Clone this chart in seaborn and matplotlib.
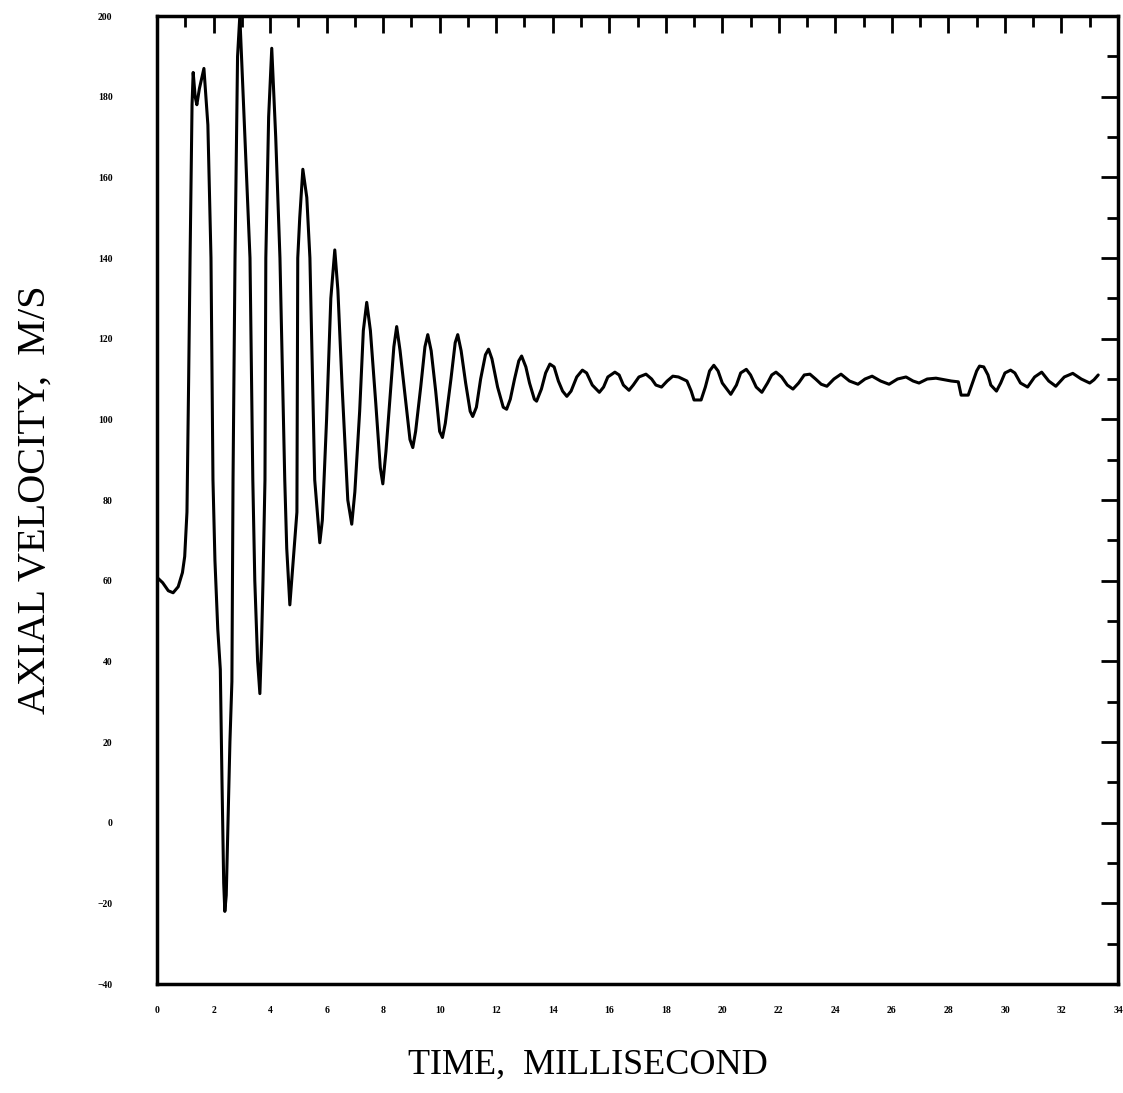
import pandas as pd
import matplotlib
matplotlib.use('Agg')
import matplotlib.pyplot as plt
import seaborn as sns
from matplotlib.ticker import MultipleLocator

# time (ms) and axial velocity (m/s)
tiempo = [0.05, 0.2, 0.4, 0.57, 0.75, 0.9, 0.98, 1.06, 1.12, 1.17, 1.24, 1.28, 1.35, 1.41, 1.5, 1.66,
          1.8, 1.91, 1.98, 2.05, 2.15, 2.24, 2.3, 2.36, 2.4, 2.45, 2.52, 2.58, 2.65, 2.69, 2.76, 2.85, 2.93,
          3.05, 3.29, 3.39, 3.46, 3.56, 3.64, 3.7, 3.75, 3.82, 3.85, 3.95, 4.06,
          4.2, 4.35, 4.52, 4.59, 4.7, 4.82, 4.95, 4.98, 5.05, 5.16,
          5.3, 5.41, 5.58, 5.76, 5.85, 6.0, 6.15, 6.29, 6.4, 6.55, 6.75, 6.89, 7.0, 7.17, 7.3, 7.42,
          7.55, 7.74, 7.9, 7.99, 8.1, 8.23, 8.38, 8.48, 8.6, 8.76, 8.95, 9.05, 9.15, 9.33, 9.48, 9.58,
          9.7, 9.86, 10.0, 10.1, 10.2, 10.4, 10.55, 10.64, 10.76, 10.92, 11.08, 11.17, 11.3, 11.45,
          11.62, 11.73, 11.85, 12.05, 12.25, 12.37, 12.5, 12.65, 12.8, 12.9, 13.05, 13.18, 13.35, 13.43,
          13.6, 13.75, 13.9, 14.05, 14.2, 14.35, 14.5, 14.65, 14.85, 15.05, 15.2, 15.4, 15.65,
          15.8, 15.95, 16.2, 16.35, 16.5, 16.7, 16.85, 17.05, 17.3, 17.5, 17.65, 17.85, 18.05,
          18.25, 18.45, 18.75, 18.9, 19.0, 19.25, 19.4, 19.55, 19.7, 19.85, 20.0, 20.3, 20.5,
          20.65, 20.85, 21.0, 21.2, 21.4, 21.6, 21.75, 21.9, 22.1, 22.3, 22.5, 22.7, 22.9, 23.1,
          23.3, 23.5, 23.7, 23.95, 24.2, 24.5, 24.8, 25.05, 25.3, 25.6, 25.9, 26.2, 26.5, 26.75,
          26.96, 27.25, 27.56, 28.1, 28.35, 28.42, 28.45, 28.7, 28.85, 29.0, 29.1, 29.25, 29.4,
          29.5, 29.7, 29.85, 30.0, 30.2, 30.35, 30.55, 30.8, 31.05, 31.3, 31.55, 31.8, 32.1,
          32.4, 32.7, 33.0, 33.15, 33.3]
velocidad = [60.5, 59.5, 57.5, 57, 58.5, 62, 66, 77, 110, 140, 178, 186, 180, 178, 182, 187,
             173, 140, 85, 65, 48, 38, 10, -15, -22, -18, 2, 20, 35, 85, 140, 190, 200,
             180, 140, 85, 60, 40, 32, 45, 60, 85, 140, 175, 192,
             170, 140, 85, 68, 54, 65, 77, 140, 150, 162,
             155, 140, 85, 69.4, 75, 100, 130, 142, 132, 108, 80, 74, 82, 102, 122, 129,
             122, 104, 88, 84, 92, 104, 118, 123, 117, 107, 95, 93, 97, 108, 118, 121,
             117, 107, 97, 95.5, 99, 110, 119, 121, 117, 109, 102, 100.7, 103, 110,
             116, 117.4, 115, 108, 103, 102.5, 105, 110, 114.5, 115.7, 113, 109, 105, 104.5,
             107.5, 111.5, 113.7, 113, 109.5, 107, 105.7, 107, 110.5, 112.2, 111.5, 108.5, 106.7,
             108, 110.5, 111.7, 111, 108.5, 107.2, 108.5, 110.5, 111.2, 110, 108.5, 108, 109.5,
             110.7, 110.5, 109.5, 107, 104.8, 104.8, 108, 112, 113.4, 112, 109, 106.2, 108.5,
             111.5, 112.4, 111, 108, 106.7, 109, 111, 111.7, 110.5, 108.5, 107.5, 109, 111, 111.2,
             110, 108.7, 108.2, 110, 111.2, 109.5, 108.7, 110, 110.7, 109.5, 108.7, 110, 110.5, 109.5,
             109, 110, 110.2, 109.5, 109.3, 107, 106, 106, 109, 112, 113.2, 113, 111,
             108.5, 107, 109, 111.5, 112.2, 111.5, 109, 108, 110.5, 111.7, 109.5, 108.2, 110.5,
             111.4, 110, 109, 109.8, 111]

df = pd.DataFrame({'tiempo': tiempo, 'velocidad': velocidad})

sns.set_style('white')
plt.rcParams['font.family'] = ['Liberation Serif', 'DejaVu Serif']
plt.rcParams['text.color'] = 'black'
plt.rcParams['xtick.color'] = 'black'
plt.rcParams['ytick.color'] = 'black'

fig = plt.figure(figsize=(11.23, 10.93), dpi=100)
ax = fig.add_axes([157 / 1123, 1 - 984 / 1093, (1118 - 157) / 1123, (984 - 16) / 1093])

sns.lineplot(data=df, x='tiempo', y='velocidad', ax=ax, color='black', linewidth=2.2,
             sort=False, solid_joinstyle='round')

ax.set_xlim(0, 34)
ax.set_ylim(-40, 200)
ax.set_xlabel('')
ax.set_ylabel('')

for s in ax.spines.values():
    s.set_linewidth(2.5)
    s.set_color('black')

ax.xaxis.set_major_locator(MultipleLocator(2))
ax.xaxis.set_minor_locator(MultipleLocator(1))
ax.yaxis.set_major_locator(MultipleLocator(20))
ax.yaxis.set_minor_locator(MultipleLocator(10))
ax.tick_params(which='both', direction='in', top=True, right=True, color='black', width=2)
ax.tick_params(which='major', length=12)
ax.tick_params(which='minor', length=8)
ax.tick_params(axis='y', which='major', pad=32, labelsize=7, labelcolor='black')
ax.tick_params(axis='x', which='major', pad=16, labelsize=7, labelcolor='black')
for lab in ax.get_xticklabels() + ax.get_yticklabels():
    lab.set_fontweight('bold')

fig.text(588 / 1123, 1 - 1065 / 1093, 'TIME,  MILLISECOND', fontsize=26,
         ha='center', va='center', color='black')
fig.text(35 / 1123, 1 - 500 / 1093, 'AXIAL VELOCITY,  M/S', fontsize=29,
         ha='center', va='center', rotation=90, color='black')

fig.savefig('out.png', dpi=100, facecolor='white')
